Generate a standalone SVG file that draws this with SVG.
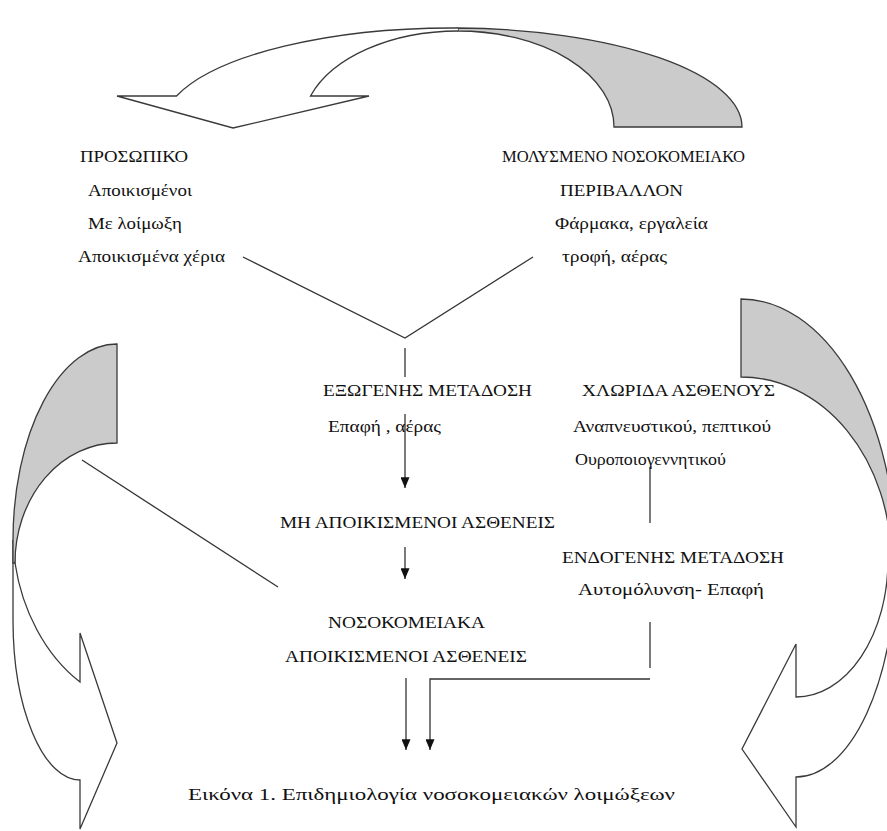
<svg xmlns="http://www.w3.org/2000/svg" width="887" height="831" viewBox="0 0 887 831">
<defs>
<style>
.bg{fill:#ffffff}
.band{fill:#ffffff;stroke:#3a3a3a;stroke-width:1.3;stroke-linejoin:miter}
.shade{fill:#cbcbcb;stroke:#3a3a3a;stroke-width:1.3}
.ln{fill:none;stroke:#333;stroke-width:1.3}
.t{font-family:"Liberation Serif","Times New Roman",serif;font-size:17px;fill:#111}
</style>
<marker id="ah" viewBox="0 0 12 10" refX="12" refY="5" markerWidth="12" markerHeight="9" markerUnits="userSpaceOnUse" orient="auto">
<path d="M0,0 L12,5 L0,10 z" fill="#111"/>
</marker>
</defs>
<rect class="bg" x="0" y="0" width="887" height="831"/>

<g id="curved-arrows">
<g id="arrow-top">
<path class="shade" d="M458 31 A156 96 0 0 1 614 127 L742 127 A290 99 0 0 0 458 28 Z"/>
<path class="band" d="M458 28 A290 99 0 0 0 176.5 96 L117 96 L233 128 L369 96 L310.5 96 A156 96 0 0 1 458 31"/>
</g>
<g id="arrow-left">
<path class="band" d="M13 540 L13 620 A67 160 0 0 0 80 780 L80 829 L117 743 L80 633 L80 682 C45 655 22 610 15 563 Z"/>
<path class="shade" d="M117 344 A104 196 0 0 0 13 540 L13 563 L15 563 A102 120 0 0 1 117 443 Z"/>
</g>
<g id="arrow-right">
<path class="shade" d="M741 299 A155 261 0 0 1 896 560 L891 560 A150 183 0 0 0 741 377 Z"/>
<path class="band" d="M896 560 A100 217 0 0 1 796 777 L796 827 L742 749 L796 644 L796 697 A92 137 0 0 0 888 560 Z"/>
</g>
</g>

<g id="connectors">
<polyline class="ln" points="243,257 405,338 533,257"/>
<line class="ln" x1="82" y1="460" x2="278" y2="587"/>
<line class="ln" x1="405" y1="348" x2="405" y2="377"/>
<line class="ln" x1="405" y1="414" x2="405" y2="488" marker-end="url(#ah)"/>
<line class="ln" x1="405" y1="547" x2="405" y2="579" marker-end="url(#ah)"/>
<line class="ln" x1="650" y1="467" x2="650" y2="523"/>
<line class="ln" x1="650" y1="622" x2="650" y2="668"/>
<line class="ln" x1="406" y1="678" x2="406" y2="750" marker-end="url(#ah)"/>
<polyline class="ln" points="650,679 430,679 430,750" marker-end="url(#ah)"/>
</g>

<g id="node-prosopiko">
<text class="t" x="80" y="162" textLength="108" lengthAdjust="spacingAndGlyphs">ΠΡΟΣΩΠΙΚΟ</text>
<text class="t" x="88" y="196" textLength="104" lengthAdjust="spacingAndGlyphs">Αποικισμένοι</text>
<text class="t" x="88" y="229" textLength="94" lengthAdjust="spacingAndGlyphs">Με λοίμωξη</text>
<text class="t" x="78" y="262" textLength="147" lengthAdjust="spacingAndGlyphs">Αποικισμένα χέρια</text>
</g>
<g id="node-periballon">
<text class="t" x="502" y="162" textLength="243" lengthAdjust="spacingAndGlyphs">ΜΟΛΥΣΜΕΝΟ  ΝΟΣΟΚΟΜΕΙΑΚΟ</text>
<text class="t" x="560" y="196" textLength="123" lengthAdjust="spacingAndGlyphs">ΠΕΡΙΒΑΛΛΟΝ</text>
<text class="t" x="555" y="229" textLength="153" lengthAdjust="spacingAndGlyphs">Φάρμακα, εργαλεία</text>
<text class="t" x="562" y="262" textLength="105" lengthAdjust="spacingAndGlyphs">τροφή, αέρας</text>
</g>
<g id="node-exogenis">
<text class="t" x="323" y="396" textLength="209" lengthAdjust="spacingAndGlyphs">ΕΞΩΓΕΝΗΣ ΜΕΤΑΔΟΣΗ</text>
<text class="t" x="328" y="432" textLength="113" lengthAdjust="spacingAndGlyphs">Επαφή , αέρας</text>
</g>
<g id="node-chlorida">
<text class="t" x="582" y="396" textLength="193" lengthAdjust="spacingAndGlyphs">ΧΛΩΡΙΔΑ ΑΣΘΕΝΟΥΣ</text>
<text class="t" x="573" y="432" textLength="198" lengthAdjust="spacingAndGlyphs">Αναπνευστικού, πεπτικού</text>
<text class="t" x="575" y="465" textLength="151" lengthAdjust="spacingAndGlyphs">Ουροποιογεννητικού</text>
</g>
<g id="node-mi-apoikismenoi">
<text class="t" x="280" y="528" textLength="275" lengthAdjust="spacingAndGlyphs">ΜΗ ΑΠΟΙΚΙΣΜΕΝΟΙ ΑΣΘΕΝΕΙΣ</text>
</g>
<g id="node-endogenis">
<text class="t" x="562" y="563" textLength="222" lengthAdjust="spacingAndGlyphs">ΕΝΔΟΓΕΝΗΣ ΜΕΤΑΔΟΣΗ</text>
<text class="t" x="578" y="595" textLength="186" lengthAdjust="spacingAndGlyphs">Αυτομόλυνση- Επαφή</text>
</g>
<g id="node-nosokomeiaka">
<text class="t" x="328" y="628" textLength="157" lengthAdjust="spacingAndGlyphs">ΝΟΣΟΚΟΜΕΙΑΚΑ</text>
<text class="t" x="285" y="662" textLength="242" lengthAdjust="spacingAndGlyphs">ΑΠΟΙΚΙΣΜΕΝΟΙ ΑΣΘΕΝΕΙΣ</text>
</g>
<g id="caption">
<text class="t" x="188" y="800" textLength="487" lengthAdjust="spacingAndGlyphs">Εικόνα 1. Επιδημιολογία νοσοκομειακών λοιμώξεων</text>
</g>
</svg>
